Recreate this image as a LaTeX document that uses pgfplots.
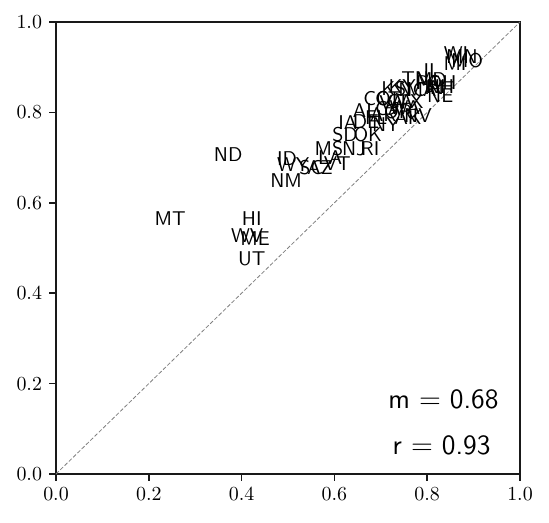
\documentclass[border=0pt]{standalone}
\usepackage{pgfplots}
\usepackage{pgfplotstable}
\pgfplotsset{compat=1.18}
\pgfplotstableread{
x y label
0.862 0.931 WI
0.860 0.909 MI
0.886 0.914 MO
0.875 0.923 MN
0.810 0.892 IL
0.832 0.867 OH
0.828 0.858 NH
0.802 0.865 PA
0.808 0.872 MD
0.774 0.874 TN
0.815 0.854 IN
0.746 0.858 KY
0.728 0.852 KS
0.767 0.850 NC
0.787 0.850 MA
0.828 0.838 NE
0.692 0.830 CO
0.716 0.830 CT
0.741 0.823 GA
0.724 0.821 VA
0.763 0.825 TX
0.752 0.810 WA
0.737 0.801 OR
0.716 0.808 CA
0.666 0.805 AL
0.705 0.796 AR
0.690 0.788 FL
0.759 0.788 AK
0.780 0.792 NV
0.668 0.779 DE
0.629 0.777 IA
0.711 0.774 NY
0.623 0.752 SD
0.672 0.752 OK
0.588 0.721 MS
0.642 0.719 NJ
0.677 0.719 RI
0.591 0.701 LA
0.606 0.686 VT
0.569 0.679 AZ
0.550 0.679 SC
0.511 0.684 WY
0.498 0.697 ID
0.496 0.650 NM
0.371 0.706 ND
0.246 0.566 MT
0.422 0.566 HI
0.412 0.527 WV
0.429 0.520 ME
0.422 0.476 UT
}\states
\begin{document}
\begin{tikzpicture}
\begin{axis}[
  scale only axis,
  width=232bp, height=226bp,
  xmin=0, xmax=1, ymin=0, ymax=1,
  xtick={0,0.2,0.4,0.6,0.8,1.0},
  ytick={0,0.2,0.4,0.6,0.8,1.0},
  tick align=outside,
  tick pos=left,
  major tick length=3.5pt,
  axis line style={line width=0.8pt, black!90},
  every tick/.style={line width=0.8pt, black!90},
  xticklabel style={/pgf/number format/.cd, fixed, fixed zerofill, precision=1},
  yticklabel style={/pgf/number format/.cd, fixed, fixed zerofill, precision=1},
  clip=false,
]
\addplot[gray, line width=0.4pt, dash pattern=on 2pt off 1pt] coordinates {(0,0) (1,1)};
\addplot[only marks, mark=none,
  nodes near coords={\pgfplotspointmeta},
  nodes near coords style={anchor=center, font=\sffamily, inner sep=0pt},
  point meta=explicit symbolic]
  table[x=x, y=y, meta=label] {\states};
\node[font=\sffamily\fontsize{14}{16}\selectfont] at (axis cs:0.835,0.166) {m $=$ 0.68};
\node[font=\sffamily\fontsize{14}{16}\selectfont] at (axis cs:0.831,0.064) {r $=$ 0.93};
\end{axis}
\path ([shift={(-28bp,-24.5bp)}]current axis.south west) rectangle ([shift={(14.5bp,11bp)}]current axis.north east);
\end{tikzpicture}
\end{document}
